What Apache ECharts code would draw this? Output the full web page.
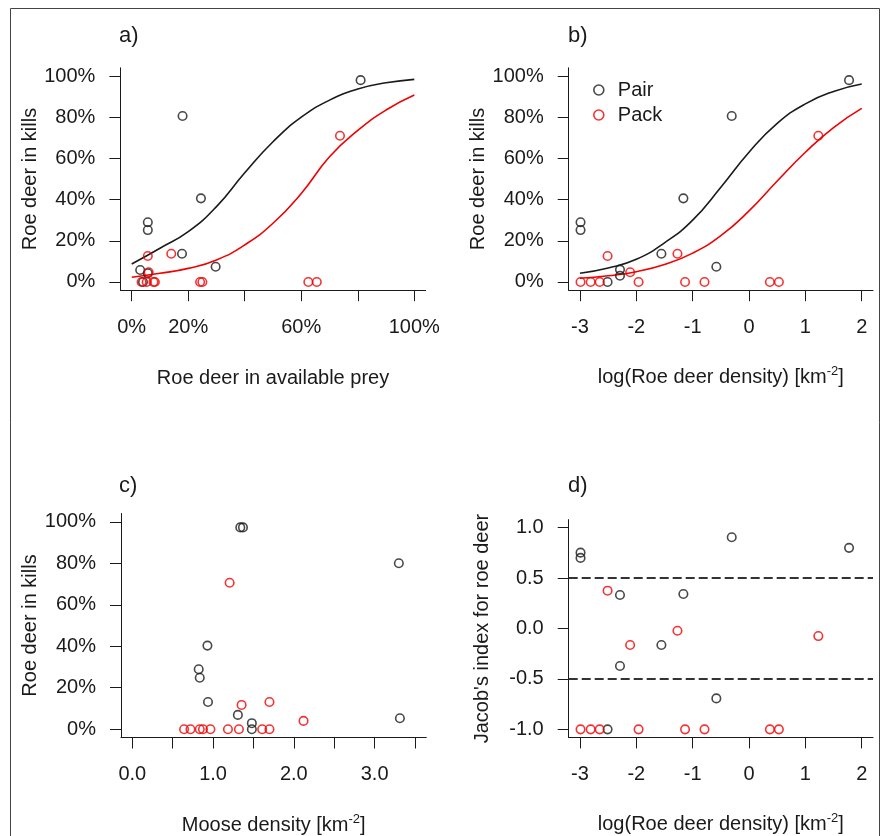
<!DOCTYPE html>
<html>
<head>
<meta charset="utf-8">
<script src="https://cdn.jsdelivr.net/npm/echarts@6/dist/echarts.min.js"></script>
<style>
html,body{margin:0;padding:0;background:#fff}
#main{width:880px;height:836px}
</style>
</head>
<body>
<div id="main"></div>
<script>
var FONT = "'Liberation Sans', Arial, sans-serif";
var INK = '#1a1a1a';
var RED = '#f00000';

// tick values
var pctTicks = [0, 0.2, 0.4, 0.6, 0.8, 1];
var pctLabelsA = [0, 0.2, 0.6, 1];
var logTicks = [-3, -2, -1, 0, 1, 2];
var mooseTicks = [0, 0.5, 1, 1.5, 2, 2.5, 3, 3.5];
var mooseLabels = [0, 1, 2, 3];
var jacobTicks = [-1, -0.5, 0, 0.5, 1];
var jacobRefs = [0.5, -0.5];

// a) roe deer share in available prey vs share in kills
var aPairX = [0.81, 0.18, 0.245, 0.057, 0.057, 0.178, 0.297, 0.03, 0.057, 0.04];
var aPairY = [0.98, 0.806, 0.406, 0.29, 0.252, 0.137, 0.074, 0.058, 0.042, 0];
var aPackX = [0.737, 0.057, 0.14, 0.06, 0.035, 0.053, 0.077, 0.082, 0.242, 0.25, 0.625, 0.655];
var aPackY = [0.71, 0.126, 0.137, 0.047, 0, 0, 0, 0, 0, 0, 0, 0];
var aFitX = [0, 0.1, 0.2, 0.3, 0.4, 0.5, 0.6, 0.7, 0.8, 0.9, 1.0];
var aPairFit = [0.087, 0.164, 0.244, 0.366, 0.53, 0.681, 0.80, 0.883, 0.937, 0.967, 0.984];
var aPackFit = [0.023, 0.042, 0.066, 0.107, 0.18, 0.285, 0.43, 0.608, 0.736, 0.835, 0.908];

// b) log roe deer density vs share in kills
var logX_pair = [-2.99, -2.99, -2.51, -2.29, -2.29, -1.555, -1.165, -0.58, -0.307, 1.775];
var bPairY = [0.29, 0.252, 0, 0.06, 0.03, 0.137, 0.406, 0.074, 0.806, 0.98];
var logX_pack = [-2.99, -2.81, -2.65, -2.51, -2.11, -1.96, -1.27, -1.135, -0.79, 0.37, 0.53, 1.23];
var bPackY = [0, 0, 0, 0.126, 0.047, 0, 0.137, 0, 0, 0, 0, 0.71];
var bFitX = [-3, -2.5, -2, -1.5, -1, -0.5, 0, 0.5, 1, 1.5, 2];
var bPairFit = [0.042, 0.068, 0.11, 0.19, 0.30, 0.46, 0.63, 0.77, 0.865, 0.925, 0.961];
var bPackFit = [0.018, 0.03, 0.05, 0.085, 0.14, 0.225, 0.345, 0.49, 0.63, 0.75, 0.843];

// c) moose density vs share in kills
var cPairX = [1.337, 1.37, 3.30, 0.93, 0.822, 0.835, 0.937, 1.307, 1.48, 1.48, 3.313];
var cPairY = [0.973, 0.973, 0.80, 0.403, 0.289, 0.248, 0.131, 0.069, 0.029, 0, 0.053];
var cPackX = [1.205, 1.353, 1.698, 2.12, 0.641, 0.72, 0.835, 0.875, 0.967, 1.184, 1.32, 1.608, 1.698];
var cPackY = [0.706, 0.117, 0.131, 0.04, 0, 0, 0, 0, 0, 0, 0, 0, 0];

// d) log roe deer density vs Jacob's index
var dPairY = [0.752, 0.70, -1.0, 0.332, -0.372, -0.164, 0.342, -0.693, 0.905, 0.80];
var dPackY = [-1, -1, -1, 0.375, -0.164, -1, -0.022, -1, -1, -1, -1, -0.075];

function zip(xs, ys) {
    return xs.map(function (x, i) { return [x, ys[i]]; });
}
function pct(v) { return Math.round(v * 100) + '%'; }
function one(v) { return v.toFixed(1); }

var nameStyle = {
    fontSize: 20, color: INK, fontFamily: FONT,
    rich: { sup: { fontSize: 13, color: INK, fontFamily: FONT, padding: [0, 0, 12, 0], verticalAlign: 'bottom' } }
};

function xAx(grid, min, max, ticks, labels, fmt, name, gap) {
    return {
        type: 'value', gridIndex: grid, min: min, max: max,
        name: name, nameLocation: 'middle', nameGap: gap, nameTextStyle: nameStyle,
        axisLine: { show: true, onZero: false, lineStyle: { color: INK, width: 1 } },
        axisTick: { show: true, length: 11, customValues: ticks, lineStyle: { color: INK, width: 1 } },
        axisLabel: { show: true, customValues: labels, formatter: fmt, margin: 27, fontSize: 20,
            color: INK, fontFamily: FONT, hideOverlap: false },
        splitLine: { show: false }
    };
}
function yAx(grid, min, max, ticks, fmt, name, gap) {
    return {
        type: 'value', gridIndex: grid, min: min, max: max,
        name: name, nameLocation: 'middle', nameGap: gap, nameTextStyle: nameStyle,
        axisLine: { show: true, onZero: false, lineStyle: { color: INK, width: 1 } },
        axisTick: { show: true, length: 11, customValues: ticks, lineStyle: { color: INK, width: 1 } },
        axisLabel: { show: true, customValues: ticks, formatter: fmt, margin: 25, fontSize: 20,
            color: INK, fontFamily: FONT, hideOverlap: false },
        splitLine: { show: false }
    };
}
function pts(name, idx, data, col) {
    return {
        name: name, type: 'scatter', xAxisIndex: idx, yAxisIndex: idx, data: data,
        symbol: 'circle', symbolSize: 8.5, z: 3,
        itemStyle: { color: 'transparent', borderColor: col, borderWidth: 1.6 }
    };
}
function fit(idx, data, col) {
    return {
        type: 'line', xAxisIndex: idx, yAxisIndex: idx, data: data,
        showSymbol: false, smooth: true, z: 2,
        lineStyle: { color: col, width: 1.6 }
    };
}

var dom = document.getElementById('main');
var myChart = echarts.init(dom);

var option = {
    backgroundColor: '#fff',
    animation: false,
    graphic: [{
        type: 'rect', left: 8, top: 6,
        shape: { width: 869, height: 840 },
        style: { fill: 'none', stroke: '#444', lineWidth: 1 }
    }],
    title: [
        { text: 'a)', left: 119, top: 25, padding: 0, textStyle: { fontSize: 22, fontWeight: 'normal', color: INK, fontFamily: FONT } },
        { text: 'b)', left: 568, top: 25, padding: 0, textStyle: { fontSize: 22, fontWeight: 'normal', color: INK, fontFamily: FONT } },
        { text: 'c)', left: 119, top: 475, padding: 0, textStyle: { fontSize: 22, fontWeight: 'normal', color: INK, fontFamily: FONT } },
        { text: 'd)', left: 568, top: 475, padding: 0, textStyle: { fontSize: 22, fontWeight: 'normal', color: INK, fontFamily: FONT } }
    ],
    legend: {
        left: 593, top: 80, orient: 'vertical', padding: 0, itemGap: 5,
        itemWidth: 10, itemHeight: 10, selectedMode: false,
        textStyle: { fontSize: 20, color: INK, fontFamily: FONT, padding: [0, 0, 0, 9] },
        data: [
            { name: 'Pair', icon: 'circle', itemStyle: { color: 'transparent', borderColor: INK, borderWidth: 1.6 } },
            { name: 'Pack', icon: 'circle', itemStyle: { color: 'transparent', borderColor: RED, borderWidth: 1.6 } }
        ]
    },
    grid: [
        { left: 120.4, top: 67.8, width: 305.2, height: 222.4, outerBoundsMode: 'none' },
        { left: 568.7, top: 67.8, width: 304.3, height: 222.4, outerBoundsMode: 'none' },
        { left: 121, top: 513.5, width: 305.3, height: 224, outerBoundsMode: 'none' },
        { left: 568.7, top: 519.6, width: 304.3, height: 217.8, outerBoundsMode: 'none' }
    ],
    xAxis: [
        xAx(0, -0.04, 1.04, pctTicks, pctLabelsA, pct, 'Roe deer in available prey', 78),
        xAx(1, -3.2, 2.2, logTicks, logTicks, function (v) { return String(v); }, 'log(Roe deer density) [km{sup|-2}]', 75),
        xAx(2, -0.14, 3.64, mooseTicks, mooseLabels, one, 'Moose density [km{sup|-2}]', 75),
        xAx(3, -3.2, 2.2, logTicks, logTicks, function (v) { return String(v); }, 'log(Roe deer density) [km{sup|-2}]', 75)
    ],
    yAxis: [
        yAx(0, -0.04, 1.04, pctTicks, pct, 'Roe deer in kills', 77),
        yAx(1, -0.04, 1.04, pctTicks, pct, 'Roe deer in kills', 76),
        yAx(2, -0.04, 1.04, pctTicks, pct, 'Roe deer in kills', 77),
        yAx(3, -1.08, 1.08, jacobTicks, one, "Jacob's index for roe deer", 76)
    ],
    series: [
        fit(0, zip(aFitX, aPairFit), INK),
        fit(0, zip(aFitX, aPackFit), RED),
        pts('a pair', 0, zip(aPairX, aPairY), INK),
        pts('a pack', 0, zip(aPackX, aPackY), RED),

        fit(1, zip(bFitX, bPairFit), INK),
        fit(1, zip(bFitX, bPackFit), RED),
        pts('Pair', 1, zip(logX_pair, bPairY), INK),
        pts('Pack', 1, zip(logX_pack, bPackY), RED),

        pts('c pair', 2, zip(cPairX, cPairY), INK),
        pts('c pack', 2, zip(cPackX, cPackY), RED),

        (function () {
            var s = pts('d pair', 3, zip(logX_pair, dPairY), INK);
            s.markLine = {
                silent: true, symbol: 'none', label: { show: false },
                lineStyle: { color: '#333', width: 2, type: [9, 4] },
                data: jacobRefs.map(function (v) { return { yAxis: v }; })
            };
            return s;
        })(),
        pts('d pack', 3, zip(logX_pack, dPackY), RED)
    ]
};
myChart.setOption(option, true);
</script>
</body>
</html>
